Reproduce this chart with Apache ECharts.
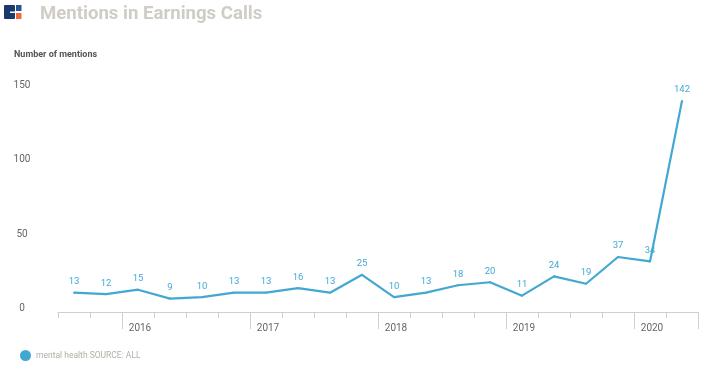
<!DOCTYPE html>
<html>
<head>
<meta charset="utf-8">
<script src="https://cdn.jsdelivr.net/npm/echarts@6/dist/echarts.min.js"></script>
<style>
html,body{margin:0;padding:0;background:#fff;}
#chart{width:728px;height:370px;}
</style>
</head>
<body>
<div id="chart"></div>
<script>
const quarters = ['2015 Q3','2015 Q4','2016 Q1','2016 Q2','2016 Q3','2016 Q4','2017 Q1','2017 Q2','2017 Q3','2017 Q4','2018 Q1','2018 Q2','2018 Q3','2018 Q4','2019 Q1','2019 Q2','2019 Q3','2019 Q4','2020 Q1','2020 Q2'];
const mentions = [13,12,15,9,10,13,13,16,13,25,10,13,18,20,11,24,19,37,34,142];
const yearLabels = ['2016','2017','2018','2019','2020'];
const yTicks = [0,50,100,150];
const seriesName = 'mental health SOURCE: ALL';
const titleText = 'Mentions in Earnings Calls';
const yAxisTitle = 'Number of mentions';

const yearStart = (idx) => yearLabels.includes(quarters[idx].slice(0,4)) && quarters[idx].endsWith('Q1');

const chart = echarts.init(document.getElementById('chart'));
chart.setOption({
  animation: false,
  backgroundColor: '#fff',
  textStyle: { fontFamily: 'Roboto' },
  grid: { left: 58, right: 30, top: 89, bottom: 58, containLabel: false },
  legend: {
    left: 20, top: 350, padding: 0, icon: 'circle', itemWidth: 11, itemHeight: 11, itemGap: 10,
    textStyle: { color: '#b3aea6', fontSize: 8.5, fontFamily: 'Roboto' },
    data: [seriesName]
  },
  graphic: [
    { type: 'rect', shape: { x: 4, y: 5, width: 11, height: 14, r: 1 }, style: { fill: '#17396b' } },
    { type: 'rect', shape: { x: 10, y: 11.5, width: 5, height: 1.5 }, style: { fill: '#ffffff' } },
    { type: 'rect', shape: { x: 16, y: 5, width: 5.5, height: 6 }, style: { fill: '#245596' } },
    { type: 'rect', shape: { x: 16, y: 13, width: 5.5, height: 6 }, style: { fill: '#f06a3b' } },
    { type: 'text', left: 40, top: 5, style: { text: titleText, fill: '#d0ccc6', font: 'bold 18.6px Roboto' } },
    { type: 'text', left: 14, top: 50, style: { text: yAxisTitle, fill: '#555555', font: 'bold 9px Roboto' } }
  ],
  xAxis: [
    {
      type: 'category', data: quarters, boundaryGap: true,
      axisLine: { show: true, lineStyle: { color: '#cfcfcf', width: 1 } },
      axisTick: { show: true, interval: 0, length: 6, lineStyle: { color: '#cfcfcf' } },
      axisLabel: { show: false }
    },
    {
      type: 'category', data: quarters, boundaryGap: true, position: 'bottom',
      axisLine: { show: false },
      axisTick: { show: true, length: 17, interval: (i) => yearStart(i), lineStyle: { color: '#cfcfcf' } },
      axisLabel: {
        show: true, interval: (i) => yearStart(i), margin: 11, color: '#666', fontSize: 10,
        padding: [0, 0, 0, 4],
        formatter: (v) => v.slice(0,4)
      }
    }
  ],
  yAxis: {
    type: 'value', min: yTicks[0], max: yTicks[yTicks.length-1], interval: 50,
    splitLine: { show: false }, axisLine: { show: false }, axisTick: { show: false },
    axisLabel: { color: '#666', fontSize: 10, align: 'center', margin: 36, verticalAlign: 'bottom', lineHeight: 7 }
  },
  series: [{
    name: seriesName, type: 'line', data: mentions, xAxisIndex: 0,
    symbol: 'circle', symbolSize: 2, showSymbol: true,
    itemStyle: { color: '#43a8d1' },
    lineStyle: { color: '#43a8d1', width: 2.2 },
    label: { show: true, position: 'top', distance: 5, color: '#43a8d1', fontSize: 9.5 }
  }]
});
</script>
</body>
</html>
